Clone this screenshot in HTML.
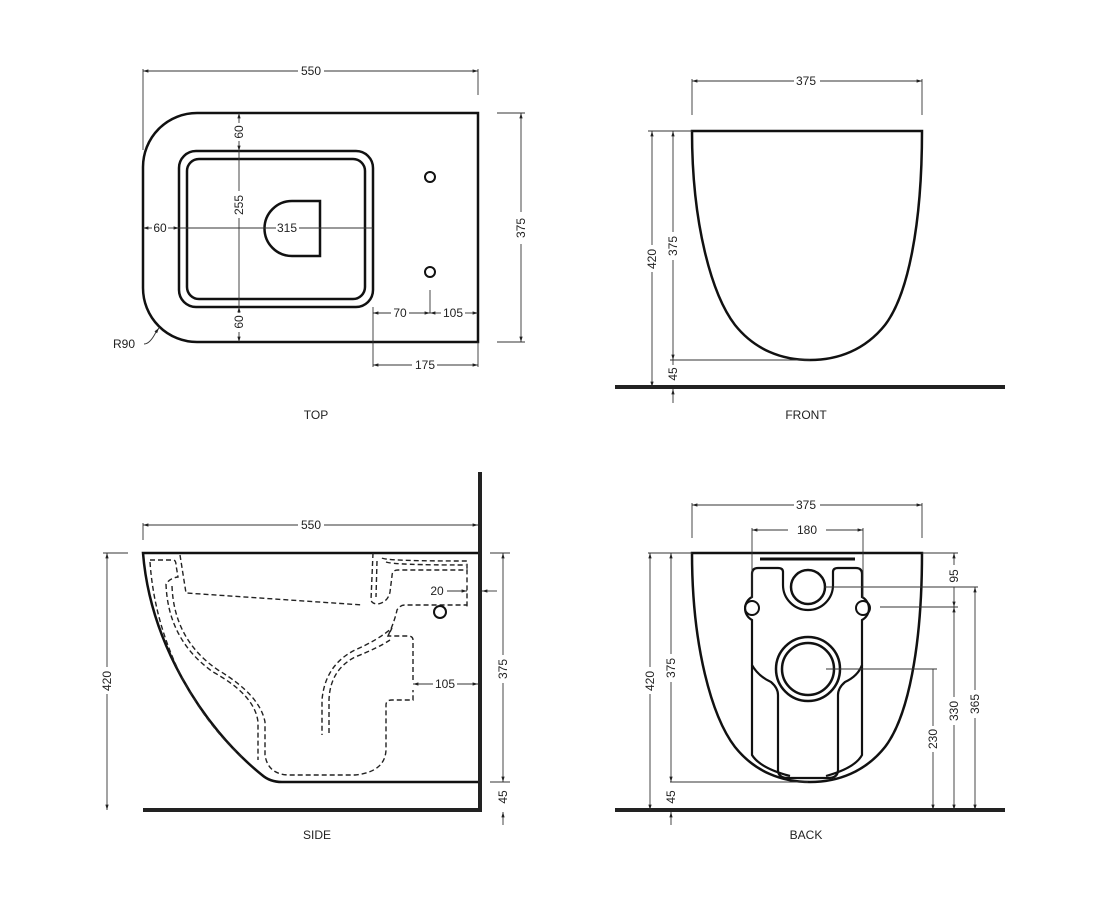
<!DOCTYPE html>
<html><head><meta charset="utf-8"><style>
html,body{margin:0;padding:0;background:#fff}
svg{display:block}
text{font-family:"Liberation Sans",sans-serif;font-size:12px;fill:#222}
</style></head><body>
<svg width="1100" height="900" viewBox="0 0 1100 900" xmlns="http://www.w3.org/2000/svg">
<defs>
<marker id="a" viewBox="0 0 10 10" refX="10" refY="5" markerWidth="8" markerHeight="6" orient="auto-start-reverse"><path d="M0,2 L10,5 L0,8 z" fill="#222"/></marker>
</defs>
<g fill="none" stroke="#111" stroke-width="2.5">
<!-- TOP -->
<path d="M478,113 H197 A54,54 0 0 0 143,167 V288 A54,54 0 0 0 197,342 H478 Z"/>
<rect x="179" y="151" width="194" height="156" rx="17"/>
<rect x="187" y="159" width="178" height="140" rx="12"/>
<path d="M320,201 H292 A27.5,27.5 0 0 0 292,256 H320 Z"/>
<circle cx="430" cy="177" r="5" stroke-width="2"/>
<circle cx="430" cy="272" r="5" stroke-width="2"/>
<!-- FRONT -->
<path d="M692,131 H922 C922,225 908,295 885,325 C865,350 838,360 810,360 C782,360 755,350 735,325 C712,295 692,225 692,131 Z"/>
<!-- SIDE -->
<path d="M478,553 H143 C150,640 200,725 262,775 Q270,782 282,782 H478"/>
<!-- BACK -->
<path d="M692,553 H922 C922,647 908,717 885,747 C865,772 838,782 810,782 C782,782 755,772 735,747 C712,717 692,647 692,553 Z"/>
<circle cx="808" cy="587" r="17"/>
<path d="M783,572 V585 A25,25 0 0 0 833,585 V572 Q833,568 838,568 H856 Q862,568 862,574 V597 A13,13 0 0 1 862,620 V625 Q862,626 862,626 V665 Q858,676 845,682 Q838,688 838,695 V770 Q838,778 828,778 H788 Q778,778 778,770 V695 Q778,688 771,682 Q758,676 752,665 V620 A13,13 0 0 1 752,597 V574 Q752,568 758,568 H778 Q783,568 783,572 Z" stroke-width="2.2"/>
<path d="M752,665 V755 Q760,768 790,776 M862,665 V755 Q855,768 826,776" stroke-width="2.2"/>
<circle cx="752" cy="608" r="7" stroke-width="2"/>
<circle cx="863" cy="608" r="7" stroke-width="2"/>
<circle cx="808" cy="669" r="26"/>
<circle cx="808" cy="669" r="32"/>
</g>
<line x1="760" y1="559" x2="855" y2="559" stroke="#111" stroke-width="3"/>
<!-- floors & wall -->
<g stroke="#222" stroke-width="4">
<line x1="615" y1="387" x2="1005" y2="387"/>
<line x1="615" y1="810" x2="1005" y2="810"/>
<line x1="143" y1="810" x2="482" y2="810"/>
<line x1="480" y1="472" x2="480" y2="812"/>
</g>
<!-- SIDE dashed internals -->
<g fill="none" stroke="#222" stroke-width="1.4" stroke-dasharray="5,3">
<path d="M180,555 L186,593 L363,605"/>
<path d="M150,560 H173 Q176,560 176,565 L178,577 Q170,578 166,584 Q168,640 213,672 Q255,695 258,722 L258,760"/>
<path d="M150,562 C156,650 200,720 243,758"/>
<path d="M172,586 Q174,640 218,670 Q260,695 265,722 L265,755 Q268,775 290,775 H355 Q385,772 386,750 V705 Q386,700 392,700 H413 V690"/>
<path d="M413,680 V640 Q413,636 408,636 H388 L392,628 Q378,640 355,650 Q325,665 322,700 V735"/>
<path d="M413,640 V640 M388,636 Q395,620 397,610 Q400,605 405,605 H467"/>
<path d="M373,553 L371,600 Q372,604 378,604 Q388,602 390,592 L392,576 Q392,570 398,570 H467 V608"/>
<path d="M377,561 L376,597 M382,558 Q386,561 462,561 H467 V572 M386,562 Q394,565 466,565"/>
<path d="M329,733 V700 Q330,670 355,657 Q378,648 390,640"/>
</g>
<circle cx="440" cy="612" r="6" fill="none" stroke="#111" stroke-width="2"/>
<!-- dimension lines -->
<g stroke="#333" stroke-width="0.9" fill="none">
<!-- top -->
<line x1="143" y1="69" x2="143" y2="150"/><line x1="478" y1="69" x2="478" y2="95"/>
<line x1="143" y1="71" x2="298" y2="71" marker-start="url(#a)"/><line x1="324" y1="71" x2="478" y2="71" marker-end="url(#a)"/>
<line x1="497" y1="113" x2="525" y2="113"/><line x1="497" y1="342" x2="525" y2="342"/>
<line x1="521" y1="113" x2="521" y2="212" marker-start="url(#a)"/><line x1="521" y1="244" x2="521" y2="342" marker-end="url(#a)"/>
<line x1="239" y1="113" x2="239" y2="123" marker-start="url(#a)"/><line x1="239" y1="141" x2="239" y2="151" marker-end="url(#a)"/>
<line x1="239" y1="151" x2="239" y2="191"/><line x1="239" y1="218" x2="239" y2="307"/>
<line x1="239" y1="307" x2="239" y2="313" marker-start="url(#a)"/><line x1="239" y1="332" x2="239" y2="342" marker-end="url(#a)"/>
<line x1="143" y1="228" x2="152" y2="228" marker-start="url(#a)"/><line x1="168" y1="228" x2="179" y2="228" marker-end="url(#a)"/>
<line x1="179" y1="228" x2="276" y2="228"/><line x1="299" y1="228" x2="373" y2="228"/>
<line x1="373" y1="307" x2="373" y2="367"/><line x1="478" y1="342" x2="478" y2="367"/>
<line x1="430" y1="290" x2="430" y2="313"/>
<line x1="373" y1="313" x2="391" y2="313" marker-start="url(#a)"/><line x1="409" y1="313" x2="430" y2="313" marker-end="url(#a)"/>
<line x1="430" y1="313" x2="441" y2="313" marker-start="url(#a)"/><line x1="465" y1="313" x2="478" y2="313" marker-end="url(#a)"/>
<line x1="373" y1="365" x2="412" y2="365" marker-start="url(#a)"/><line x1="437" y1="365" x2="478" y2="365" marker-end="url(#a)"/>
<path d="M144,344 Q150,344 156,332"/><line x1="156" y1="332" x2="159" y2="328" marker-end="url(#a)"/>
<!-- front -->
<line x1="692" y1="79" x2="692" y2="115"/><line x1="922" y1="79" x2="922" y2="115"/>
<line x1="692" y1="81" x2="794" y2="81" marker-start="url(#a)"/><line x1="820" y1="81" x2="922" y2="81" marker-end="url(#a)"/>
<line x1="648" y1="131" x2="692" y2="131"/><line x1="670" y1="360" x2="810" y2="360"/>
<line x1="652" y1="131" x2="652" y2="245" marker-start="url(#a)"/><line x1="652" y1="272" x2="652" y2="387" marker-end="url(#a)"/>
<line x1="673" y1="131" x2="673" y2="232" marker-start="url(#a)"/><line x1="673" y1="260" x2="673" y2="360" marker-end="url(#a)"/>
<line x1="673" y1="360" x2="673" y2="365"/><line x1="673" y1="403" x2="673" y2="389" marker-end="url(#a)"/>
<!-- side -->
<line x1="143" y1="523" x2="143" y2="540"/>
<line x1="143" y1="525" x2="298" y2="525" marker-start="url(#a)"/><line x1="324" y1="525" x2="478" y2="525" marker-end="url(#a)"/>
<line x1="103" y1="553" x2="128" y2="553"/>
<line x1="107" y1="553" x2="107" y2="667" marker-start="url(#a)"/><line x1="107" y1="694" x2="107" y2="810" marker-end="url(#a)"/>
<line x1="490" y1="553" x2="510" y2="553"/><line x1="490" y1="782" x2="510" y2="782"/>
<line x1="503" y1="553" x2="503" y2="655" marker-start="url(#a)"/><line x1="503" y1="683" x2="503" y2="782" marker-end="url(#a)"/>
<line x1="503" y1="825" x2="503" y2="812" marker-end="url(#a)"/>
<line x1="447" y1="591" x2="467" y2="591" marker-end="url(#a)"/>
<line x1="497" y1="591" x2="482" y2="591" marker-end="url(#a)"/>
<line x1="413" y1="684" x2="433" y2="684" marker-start="url(#a)"/><line x1="457" y1="684" x2="478" y2="684" marker-end="url(#a)"/>
<!-- back -->
<line x1="692" y1="503" x2="692" y2="538"/><line x1="922" y1="503" x2="922" y2="538"/>
<line x1="692" y1="505" x2="794" y2="505" marker-start="url(#a)"/><line x1="820" y1="505" x2="922" y2="505" marker-end="url(#a)"/>
<line x1="752" y1="528" x2="752" y2="598"/><line x1="863" y1="528" x2="863" y2="598"/>
<line x1="752" y1="530" x2="788" y2="530" marker-start="url(#a)"/><line x1="826" y1="530" x2="863" y2="530" marker-end="url(#a)"/>
<line x1="648" y1="553" x2="692" y2="553"/><line x1="670" y1="782" x2="808" y2="782"/>
<line x1="650" y1="553" x2="650" y2="667" marker-start="url(#a)"/><line x1="650" y1="694" x2="650" y2="810" marker-end="url(#a)"/>
<line x1="671" y1="553" x2="671" y2="654" marker-start="url(#a)"/><line x1="671" y1="682" x2="671" y2="782" marker-end="url(#a)"/>
<line x1="671" y1="825" x2="671" y2="812" marker-end="url(#a)"/>
<line x1="922" y1="553" x2="958" y2="553"/>
<line x1="825" y1="587" x2="978" y2="587"/><line x1="880" y1="607" x2="958" y2="607"/><line x1="826" y1="669" x2="937" y2="669"/>
<line x1="954" y1="553" x2="954" y2="565" marker-start="url(#a)"/><line x1="954" y1="587" x2="954" y2="607" marker-end="url(#a)"/>
<line x1="954" y1="607" x2="954" y2="697" marker-start="url(#a)"/><line x1="954" y1="725" x2="954" y2="810" marker-end="url(#a)"/>
<line x1="975" y1="587" x2="975" y2="690" marker-start="url(#a)"/><line x1="975" y1="718" x2="975" y2="810" marker-end="url(#a)"/>
<line x1="933" y1="669" x2="933" y2="726"/><line x1="933" y1="752" x2="933" y2="810" marker-end="url(#a)"/>
</g>
<!-- labels -->
<g text-anchor="middle">
<text x="311" y="75">550</text>
<text x="806" y="85">375</text>
<text x="311" y="529">550</text>
<text x="806" y="509">375</text>
<text x="807" y="534">180</text>
<text x="160" y="232">60</text>
<text x="287" y="232">315</text>
<text x="400" y="317">70</text>
<text x="453" y="317">105</text>
<text x="425" y="369">175</text>
<text x="124" y="348">R90</text>
<text x="437" y="595">20</text>
<text x="445" y="688">105</text>
<text x="316" y="419">TOP</text>
<text x="806" y="419">FRONT</text>
<text x="317" y="839">SIDE</text>
<text x="806" y="839">BACK</text>
<text transform="translate(243,132) rotate(-90)">60</text>
<text transform="translate(243,205) rotate(-90)">255</text>
<text transform="translate(243,322) rotate(-90)">60</text>
<text transform="translate(525,228) rotate(-90)">375</text>
<text transform="translate(656,259) rotate(-90)">420</text>
<text transform="translate(677,246) rotate(-90)">375</text>
<text transform="translate(677,374) rotate(-90)">45</text>
<text transform="translate(111,681) rotate(-90)">420</text>
<text transform="translate(507,669) rotate(-90)">375</text>
<text transform="translate(507,797) rotate(-90)">45</text>
<text transform="translate(654,681) rotate(-90)">420</text>
<text transform="translate(675,668) rotate(-90)">375</text>
<text transform="translate(675,797) rotate(-90)">45</text>
<text transform="translate(958,576) rotate(-90)">95</text>
<text transform="translate(958,711) rotate(-90)">330</text>
<text transform="translate(979,704) rotate(-90)">365</text>
<text transform="translate(937,739) rotate(-90)">230</text>
</g>
</svg>
</body></html>
